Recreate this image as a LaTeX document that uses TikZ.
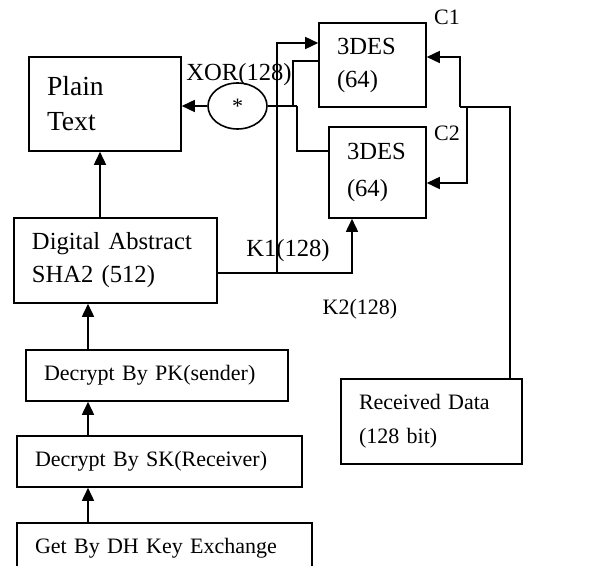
\documentclass[tikz,border=0pt]{standalone}
\usepackage{fontspec}
\setmainfont{Liberation Serif}
\usetikzlibrary{arrows.meta,shapes.geometric}

\begin{document}
\begin{tikzpicture}[x=0.5pt, y=-0.5pt,
      font=\fontsize{11}{17}\selectfont,
      box/.style={draw, line width=0.8pt, align=left,
                  inner xsep=9pt, inner ysep=0pt},
      big/.style={font=\fontsize{12.3}{16.5}\selectfont},
      lbl/.style={inner sep=0pt},
      line/.style={line width=0.8pt},
      arr/.style={-{Triangle[length=6.5pt, width=6pt]}, line width=0.8pt}]
    \useasboundingbox (0,0) rectangle (590,566);
    % receiver side stack
    \node[box, text width=58pt, minimum height=47pt,
          font=\fontsize{13.8}{17.5}\selectfont] (plain) at (105,104) {Plain\\ Text};
    \node[box, big, text width=83.5pt, minimum height=42.5pt] (digest) at (115.5,260.5) {Digital Abstract\\ SHA2 (512)};
    \node[box, text width=113pt, minimum height=25.5pt] (pk) at (157,375.5) {Decrypt By PK(sender)};
    \node[box, text width=124.5pt, minimum height=25.5pt] (sk) at (159.5,461.5) {Decrypt By SK(Receiver)};
    \node[box, text width=129.5pt, minimum height=25.5pt] (dh) at (164.5,548.5) {Get By DH Key Exchange};
    % 3DES blocks
    \node[box, big, text width=35.5pt, minimum height=42pt] (desa) at (372.5,65) {3DES\\ (64)};
    \node[box, big, text width=30.5pt, minimum height=45.5pt] (desb) at (377.5,172.5) {3DES\\[2pt] (64)};
    \node[box, text width=72.5pt, minimum height=42.5pt] (recv) at (431.5,421.5) {Received Data\\ (128 bit)};
    \node[draw, ellipse, line width=0.8pt, minimum width=29.5pt, minimum height=23pt,
          inner sep=0pt] (xor) at (237.5,106) {*};
    % labels
    \node[lbl, big] (xorlbl) at (239,75) {XOR(128)};
    \node[lbl, big] (k1lbl) at (288,251) {K1(128)};
    \node[lbl] (k2lbl) at (360,309) {K2(128)};
    \node[lbl] (c1) at (447,17) {C1};
    \node[lbl] (c2) at (447,133) {C2};
    % bends
    \coordinate (spine) at (88,0);
    \coordinate (up) at (100,0);
    \coordinate (k1) at (352,273);
    \coordinate (k1up) at (277,43);
    \coordinate (ja) at (293,61);
    \coordinate (jb) at (297,151);
    \coordinate (rdtop) at (510,107);
    \coordinate (ca) at (460,57);
    \coordinate (cb) at (467,183);
    % connectors
    \draw[arr] (xor.west) -- (xor.west -| plain.east);
    \draw[arr] (digest.north -| up) -- (plain.south -| up);
    \draw[arr] (pk.north -| spine) -- (digest.south -| spine);
    \draw[arr] (sk.north -| spine) -- (pk.south -| spine);
    \draw[arr] (dh.north -| spine) -- (sk.south -| spine);
    \draw[arr] (k1 -| digest.east) -- (k1) -- (k1 |- desb.south);
    \draw[arr] (k1 -| k1up) -- (k1up) -- (k1up -| desa.west);
    \draw[line] (xor.east) -- (jb |- xor.east);
    \draw[line] (ja |- xor.east) -- (ja) -- (ja -| desa.west);
    \draw[line] (jb |- xor.east) -- (jb) -- (jb -| desb.west);
    \draw[line] (recv.north -| rdtop) -- (rdtop) -- (ca |- rdtop);
    \draw[arr] (ca |- rdtop) -- (ca) -- (ca -| desa.east);
    \draw[arr] (cb |- rdtop) -- (cb) -- (cb -| desb.east);
\end{tikzpicture}
\end{document}
